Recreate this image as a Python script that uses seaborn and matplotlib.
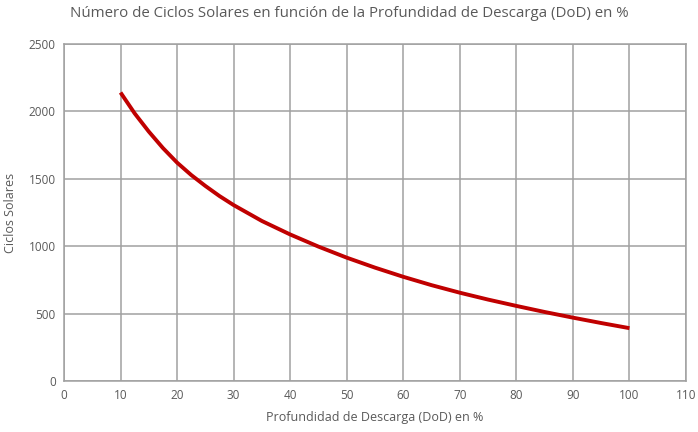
import numpy as np
import pandas as pd
import matplotlib
matplotlib.use("Agg")
import matplotlib.pyplot as plt
import seaborn as sns

# values
dod = [10, 12.5, 15, 17.5, 20, 22.5, 25, 27.5, 30, 35, 40, 45, 50, 55, 60,
       65, 70, 75, 80, 85, 90, 95, 100]
ciclos = [2140, 1985, 1850, 1728, 1620, 1528, 1447, 1372, 1305, 1187, 1087,
          997, 915, 841, 773, 711, 655, 604, 557, 512, 470, 430, 392]
x_ticks = list(range(0, 111, 10))
y_ticks = list(range(0, 2501, 500))

sns.set_theme(style="white")
plt.rcParams['font.family'] = ['Open Sans', 'DejaVu Sans']
TXT = "#595959"
GRID = "#a0a0a0"

df = pd.DataFrame({"DoD": dod, "Ciclos": ciclos})

fig = plt.figure(figsize=(6.98, 4.32), dpi=100)
ax = fig.add_axes([64 / 698, 1 - 381 / 432, (686 - 64) / 698, (381 - 44) / 432])

sns.lineplot(data=df, x="DoD", y="Ciclos", ax=ax, color="#c00000", linewidth=2.8,
             solid_capstyle="butt", solid_joinstyle="round")

ax.set_xlim(0, 110)
ax.set_ylim(0, 2500)
ax.set_xticks(x_ticks)
ax.set_yticks(y_ticks)
ax.grid(True, color=GRID, linewidth=1.1)
ax.set_axisbelow(True)
for s in ax.spines.values():
    s.set_color(GRID)
    s.set_linewidth(1.1)
ax.tick_params(axis="both", length=0, labelsize=8.5, labelcolor=TXT, pad=6)

ax.set_xlabel("Profundidad de Descarga (DoD) en %", fontsize=9, color=TXT, labelpad=6)
ax.set_ylabel("Ciclos Solares", fontsize=9, color=TXT, labelpad=8)
fig.suptitle("Número de Ciclos Solares en función de la Profundidad de Descarga (DoD) en %",
             x=0.5, y=0.985, fontsize=10.8, color=TXT)

fig.savefig("out.png", dpi=100)
